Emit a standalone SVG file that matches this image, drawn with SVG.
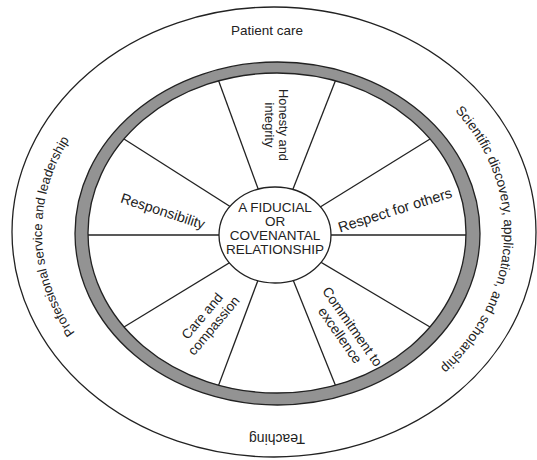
<svg xmlns="http://www.w3.org/2000/svg" width="537" height="460" viewBox="0 0 537 460">
  <style>
    text { font-family: "Liberation Sans", Arial, Helvetica, sans-serif; fill: #222; }
    .line { stroke: #222; stroke-width: 1.3; fill: none; }
    .lbl { font-size: 14px; text-anchor: middle; }
    .ctr { font-size: 13.5px; text-anchor: middle; }
    .outer { font-size: 13.5px; text-anchor: middle; }
  </style>
  <defs>
    <path id="leftArc" d="M194.7,416.2 A232,196 0 0 1 194.7,47.8"/>
    <path id="rightArc" d="M352.7,47.8 A230,196 0 0 1 352.7,416.2"/>
  </defs>
  <rect width="537" height="460" fill="#ffffff"/>

  <g id="outer-ring">
    <ellipse cx="274" cy="232" rx="262" ry="225" class="line"/>
    <text class="outer" x="267" y="35" font-size="14.3">Patient care</text>
    <text class="outer" transform="translate(277,439) rotate(180)" x="0" y="5" style="font-size:14px">Teaching</text>
    <text class="outer" style="font-size:13px"><textPath href="#leftArc" startOffset="49%">Professional service and leadership</textPath></text>
    <text class="outer"><textPath href="#rightArc" startOffset="52%">Scientific discovery, application, and scholarship</textPath></text>
  </g>

  <g id="rim">
    <ellipse cx="277.5" cy="233.5" rx="202.5" ry="171.5" fill="#939393" stroke="#222" stroke-width="1.3"/>
    <ellipse cx="277" cy="233" rx="189" ry="160" fill="#ffffff" stroke="#222" stroke-width="1.3"/>
  </g>

  <g id="spokes">
    <line class="line" x1="275" y1="235" x2="466" y2="235"/>
    <line class="line" x1="275" y1="235" x2="430" y2="327"/>
    <line class="line" x1="275" y1="235" x2="335.4" y2="385.2"/>
    <line class="line" x1="275" y1="235" x2="218.6" y2="385.2"/>
    <line class="line" x1="275" y1="235" x2="124" y2="327"/>
    <line class="line" x1="275" y1="235" x2="88" y2="235"/>
    <line class="line" x1="275" y1="235" x2="124" y2="139"/>
    <line class="line" x1="275" y1="235" x2="218.6" y2="80.8"/>
    <line class="line" x1="275" y1="235" x2="335.4" y2="80.8"/>
    <line class="line" x1="275" y1="235" x2="430" y2="139"/>
  </g>

  <g id="center">
    <ellipse cx="275" cy="235" rx="56" ry="48" fill="#ffffff" stroke="#222" stroke-width="1.3"/>
    <text class="ctr" x="275" y="212">A FIDUCIAL</text>
    <text class="ctr" x="275" y="226">OR</text>
    <text class="ctr" x="275" y="240">COVENANTAL</text>
    <text class="ctr" x="275" y="254">RELATIONSHIP</text>
  </g>

  <g id="honesty">
    <text class="lbl" transform="translate(279,125) rotate(90)" style="font-size:12.8px"><tspan x="0" y="0">Honesty and</tspan><tspan x="0" y="14">integrity</tspan></text>
  </g>
  <g id="responsibility">
    <text class="lbl" transform="translate(163,211) rotate(18)" x="0" y="5" style="font-size:14.2px">Responsibility</text>
  </g>
  <g id="respect">
    <text class="lbl" transform="translate(395,210) rotate(-17.4)" x="0" y="5" style="font-size:14.5px">Respect for others</text>
  </g>
  <g id="care">
    <text class="lbl" transform="translate(208,321) rotate(-50)" style="font-size:13.5px"><tspan x="0" y="-3">Care and</tspan><tspan x="0" y="12">compassion</tspan></text>
  </g>
  <g id="commitment">
    <text class="lbl" transform="translate(346,331) rotate(55)" style="font-size:13.8px"><tspan x="0" y="-3">Commitment to</tspan><tspan x="0" y="12">excellence</tspan></text>
  </g>
</svg>
